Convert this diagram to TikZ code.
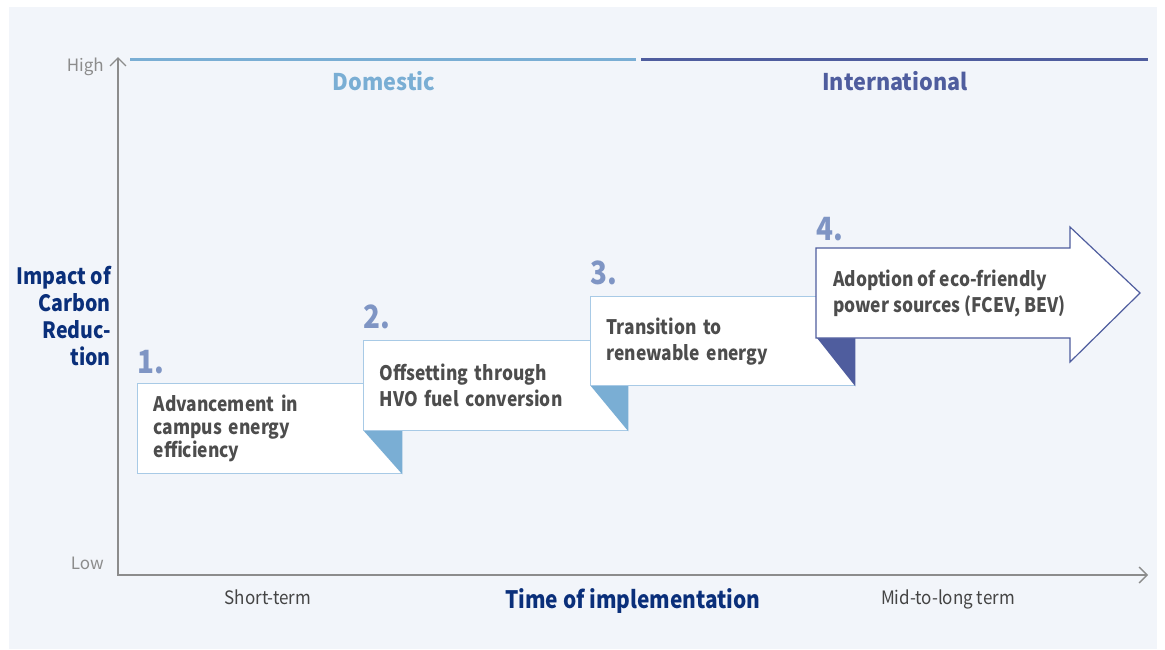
\documentclass[tikz,border=0pt]{standalone}
\usepackage{fontspec}
\setmainfont{Noto Sans CJK KR}
\newfontfamily\narrowfont[FakeStretch=0.87]{Noto Sans CJK KR}
\newfontfamily\semifont[FakeStretch=0.94]{Noto Sans CJK KR}
\newfontfamily\termfont[FakeStretch=0.92]{Noto Sans CJK KR}
\usetikzlibrary{arrows.meta}
\definecolor{panel}{HTML}{F2F5FA}
\definecolor{lightband}{HTML}{7AAED4}
\definecolor{darkband}{HTML}{4F5D9E}
\definecolor{boxline}{HTML}{A8CAE6}
\definecolor{numblue}{HTML}{7F95C4}
\definecolor{boxtext}{HTML}{4D4D4D}
\definecolor{navy}{HTML}{0A2F7A}
\definecolor{axisgray}{HTML}{8C8C8C}
\definecolor{termgray}{HTML}{444444}
\tikzset{
  chev/.tip={Straight Barb[length=8pt,width=16pt,line width=1.3pt]},
  axisline/.style={draw=axisgray, line width=1.3pt},
  band/.style={line width=3pt},
  stepbox/.style={draw=boxline, line width=1.3pt, fill=white, anchor=north west,
    inner xsep=16pt, inner ysep=0pt, text width=232pt, minimum height=90pt,
    align=left, text=boxtext, font=\narrowfont\bfseries\fontsize{20}{26}\selectfont},
  stepnum/.style={anchor=base west, inner sep=0pt, text=numblue,
    font=\narrowfont\bfseries\fontsize{32}{32}\selectfont},
  axislabel/.style={anchor=base east, inner sep=0pt, text=axisgray,
    font=\fontsize{17}{17}\selectfont},
  termlabel/.style={anchor=base, inner sep=0pt, text=termgray,
    font=\termfont\fontsize{18.5}{18.5}\selectfont},
  title/.style={anchor=base, inner sep=0pt, font=\semifont\bfseries\fontsize{23}{23}\selectfont},
}
\begin{document}
\begin{tikzpicture}[x=1pt,y=-1pt]
\useasboundingbox (0,0) rectangle (1165,649);
\fill[white] (0,0) rectangle (1165,649);
\fill[panel] (9,7) rectangle (1157,649);

% axes
\coordinate (origin) at (118,575);
\coordinate (ytop) at (118,57);
\coordinate (xend) at (1148,575);
\draw[axisline, chev-chev] (ytop) -- (origin) -- (xend);
\node[axislabel] (high) at (104,71) {High};
\node[axislabel] (low) at (104,569) {Low};

% scope bands
\coordinate (dom1) at (130,59);
\coordinate (dom2) at (636,59);
\coordinate (int1) at (641,59);
\coordinate (int2) at (1148,59);
\draw[band, lightband] (dom1) -- (dom2);
\draw[band, darkband] (int1) -- (int2);
\node[title, text=lightband] (domestic) at (384,90) {Domestic};
\node[title, text=darkband] (international) at (895,90) {International};

% axis titles
\node[anchor=east, inner sep=0pt, align=right, text=navy,
  font=\narrowfont\bfseries\fontsize{22.5}{27}\selectfont] (impact) at (111,316)
  {Impact of\\Carbon\\Reduc-\\tion};
\node[title, text=navy, font=\narrowfont\bfseries\fontsize{24}{24}\selectfont] (timeimpl) at (633,608) {Time of implementation};
\node[termlabel] (short) at (268,604) {Short-term};
\node[termlabel] (midlong) at (948,604) {Mid-to-long term};

% step 1
\node[stepbox, font=\narrowfont\bfseries\fontsize{20}{23}\selectfont] (box1) at (137,383)
  {Advancement in\\campus energy\\efficiency};
\node[stepnum] (n1) at (137,373) {1.};

% step 2
\fill[lightband] (363,430) -- (box1.east |- 0,430) -- (box1.south east) -- cycle;
\node[stepbox] (box2) at (363,340) {Offsetting through\\HVO fuel conversion};
\node[stepnum] (n2) at (363,328) {2.};

% step 3
\fill[lightband] (590,385) -- (box2.east |- 0,385) -- (box2.south east) -- cycle;
\node[stepbox, minimum height=89pt] (box3) at (590,296) {Transition to\\renewable energy};
\node[stepnum] (n3) at (590,284) {3.};

% step 4: arrow
\coordinate (a1) at (816,248);
\coordinate (a2) at (1070,248);
\coordinate (a3) at (1070,227);
\coordinate (a4) at (1140,293);
\coordinate (a5) at (1070,362);
\coordinate (a6) at (1070,338);
\coordinate (a7) at (816,338);
\fill[darkband] (817,338) -- (box3.east |- 0,338) -- (box3.south east) -- cycle;
\draw[draw=darkband, line width=1.2pt, fill=white, line join=miter]
  (a1) -- (a2) -- (a3) -- (a4) -- (a5) -- (a6) -- (a7) -- cycle;
\node[anchor=west, inner xsep=17pt, inner ysep=0pt, align=left, text=boxtext,
  font=\narrowfont\bfseries\fontsize{20}{26}\selectfont] (box4) at (816,293)
  {Adoption of eco-friendly\\power sources (FCEV, BEV)};
\node[stepnum] (n4) at (816,240) {4.};
\end{tikzpicture}
\end{document}
